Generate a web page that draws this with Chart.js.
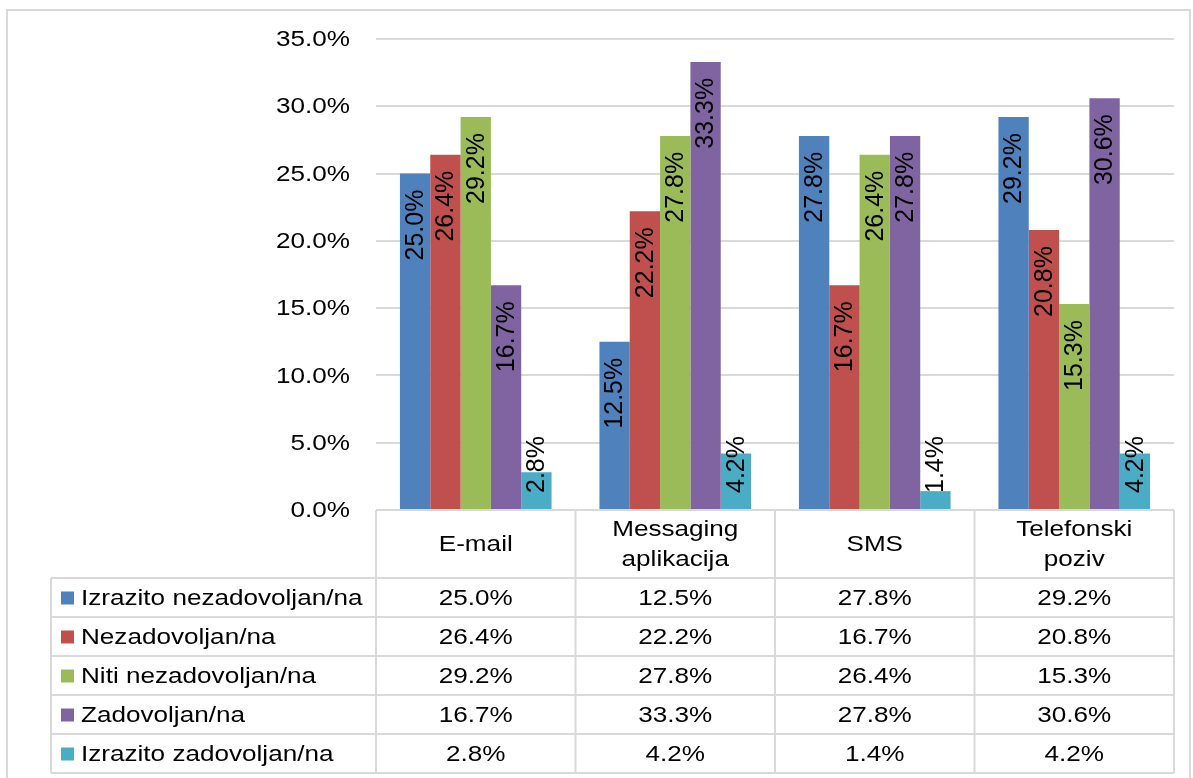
<!DOCTYPE html>
<html>
<head>
<meta charset="utf-8">
<script src="https://cdn.jsdelivr.net/npm/chart.js@4/dist/chart.umd.min.js"></script>
<style>
  html, body { margin: 0; padding: 0; background: #fff; }
  canvas { display: block; }
</style>
</head>
<body>
<canvas id="kanaliChart" width="1193" height="778"></canvas>
<script>
  // Podaci
  const categories = [['E-mail'], ['Messaging', 'aplikacija'], ['SMS'], ['Telefonski', 'poziv']];
  const seriesNames = [
    'Izrazito nezadovoljan/na',
    'Nezadovoljan/na',
    'Niti nezadovoljan/na',
    'Zadovoljan/na',
    'Izrazito zadovoljan/na'
  ];
  const izrazitoNezadovoljan = [25.0, 12.5, 27.8, 29.2];
  const nezadovoljan = [26.4, 22.2, 16.7, 20.8];
  const nitiNezadovoljan = [29.2, 27.8, 26.4, 15.3];
  const zadovoljan = [16.7, 33.3, 27.8, 30.6];
  const izrazitoZadovoljan = [2.8, 4.2, 1.4, 4.2];
  const yTicks = [0, 5, 10, 15, 20, 25, 30, 35];

  const seriesValues = [izrazitoNezadovoljan, nezadovoljan, nitiNezadovoljan, zadovoljan, izrazitoZadovoljan];
  const colors = ['#4F81BD', '#C0504D', '#9BBB59', '#8064A2', '#4BACC6'];
  const FAMILY = '"Liberation Sans", Arial, sans-serif';
  const FONT_H = '22.5px ' + FAMILY;   // vodoravni tekst (malo rastegnut)
  const STRETCH = 1.16;
  const FONT_V = '25px ' + FAMILY;     // okomite oznake
  const GRID = '#d9d9d9';

  const fmt = v => v.toFixed(1) + '%';

  function hText(c, txt, x, y, align) {
    c.save();
    c.translate(x, y);
    c.scale(STRETCH, 1);
    c.textAlign = align;
    c.fillText(txt, 0, 0);
    c.restore();
  }

  // okvir cijelog grafikona
  const frame = {
    id: 'frame',
    beforeDraw(chart) {
      const c = chart.ctx;
      c.save();
      c.strokeStyle = GRID;
      c.lineWidth = 2;
      c.strokeRect(7, 10, 1183, 800);
      c.restore();
    }
  };

  // oznake osi y
  const yLabels = {
    id: 'yLabels',
    afterDraw(chart) {
      const c = chart.ctx;
      const y = chart.scales.y;
      c.save();
      c.font = FONT_H;
      c.fillStyle = '#000';
      c.textBaseline = 'middle';
      yTicks.forEach(v => hText(c, fmt(v), 350, y.getPixelForValue(v) + 1, 'right'));
      c.restore();
    }
  };

  // oznake vrijednosti, okomito
  const valueLabels = {
    id: 'valueLabels',
    afterDatasetsDraw(chart) {
      const c = chart.ctx;
      const base = chart.scales.y.getPixelForValue(0);
      c.save();
      c.font = FONT_V;
      c.fillStyle = '#000';
      c.textAlign = 'left';
      c.textBaseline = 'middle';
      chart.data.datasets.forEach((ds, i) => {
        chart.getDatasetMeta(i).data.forEach((bar, j) => {
          const txt = fmt(ds.data[j]);
          const w = c.measureText(txt).width;
          let bottom = bar.y + 16 + w;
          if (bottom > base - 17) bottom = base - 17;
          c.save();
          c.translate(bar.x, bottom);
          c.rotate(-Math.PI / 2);
          c.fillText(txt, 0, 1);
          c.restore();
        });
      });
      c.restore();
    }
  };

  // tablica podataka ispod grafikona
  const dataTable = {
    id: 'dataTable',
    afterDraw(chart) {
      const c = chart.ctx;
      const area = chart.chartArea;
      const colW = (area.right - area.left) / categories.length;
      const top = area.bottom;
      const headH = 68;
      const rowH = 39;
      const tableLeft = 51;
      const rowsTop = top + headH;
      const tableBottom = rowsTop + rowH * seriesNames.length;

      c.save();
      c.strokeStyle = GRID;
      c.lineWidth = 2;
      c.beginPath();
      c.moveTo(area.left, top); c.lineTo(area.right, top);
      for (let r = 0; r <= seriesNames.length; r++) {
        const y = rowsTop + r * rowH;
        c.moveTo(tableLeft, y); c.lineTo(area.right, y);
      }
      c.moveTo(tableLeft, rowsTop); c.lineTo(tableLeft, tableBottom);
      for (let k = 0; k <= categories.length; k++) {
        const x = area.left + k * colW;
        c.moveTo(x, top); c.lineTo(x, tableBottom);
      }
      c.stroke();

      c.font = FONT_H;
      c.fillStyle = '#000';
      c.textBaseline = 'middle';
      // zaglavlje kategorija
      categories.forEach((lines, k) => {
        const cx = area.left + (k + 0.5) * colW;
        const cy = top + headH / 2;
        const lh = 30;
        lines.forEach((ln, n) => {
          hText(c, ln, cx, cy + (n - (lines.length - 1) / 2) * lh + 1, 'center');
        });
      });
      // redovi serija
      seriesNames.forEach((name, r) => {
        const cy = rowsTop + (r + 0.5) * rowH + 1;
        c.fillStyle = colors[r];
        c.fillRect(61, cy - 7, 13, 13);
        c.fillStyle = '#000';
        hText(c, name, 81, cy, 'left');
        seriesValues[r].forEach((v, k) => {
          hText(c, fmt(v), area.left + (k + 0.5) * colW, cy, 'center');
        });
      });
      c.restore();
    }
  };

  document.addEventListener('DOMContentLoaded', function() {
    const ctx = document.getElementById('kanaliChart').getContext('2d');

    new Chart(ctx, {
      type: 'bar',
      data: {
        labels: categories,
        datasets: seriesNames.map((name, i) => ({
          label: name,
          data: seriesValues[i],
          backgroundColor: colors[i],
          borderWidth: 0,
          categoryPercentage: 0.76,
          barPercentage: 1.0
        }))
      },
      options: {
        responsive: false,
        animation: false,
        layout: {
          padding: { left: 0, top: 39, right: 19, bottom: 268 }
        },
        scales: {
          x: {
            display: false
          },
          y: {
            min: 0,
            max: 35,
            afterFit: function(scale) { scale.width = 376; },
            afterBuildTicks: function(scale) {
              scale.ticks = yTicks.map(v => ({ value: v }));
            },
            border: { display: false },
            grid: {
              color: GRID,
              lineWidth: 2,
              drawTicks: false
            },
            ticks: {
              display: false
            }
          }
        },
        plugins: {
          legend: { display: false },
          tooltip: { enabled: false }
        }
      },
      plugins: [frame, yLabels, valueLabels, dataTable]
    });
  });
</script>
</body>
</html>
